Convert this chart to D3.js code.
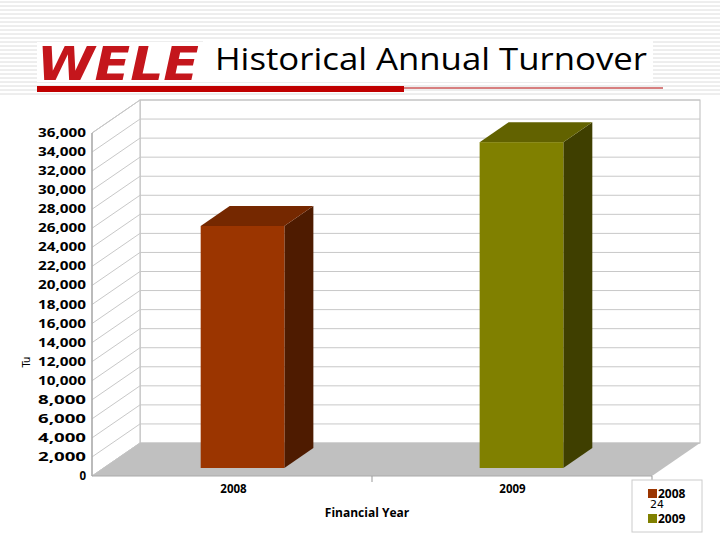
<!DOCTYPE html>
<html><head><meta charset="utf-8">
<script src="https://cdn.jsdelivr.net/npm/d3@7"></script>
<style>body{margin:0;background:#fff}svg{display:block}</style>
</head><body><div id="chart"></div>
<script>
// chart data
const years = ['2008', '2009'];
const turnover = [25400, 34200];
const yTicks = d3.range(0, 36001, 2000);
const faceColors = ['#9b3500', '#808000'];
const topColors = ['#752800', '#626200'];
const sideColors = ['#4e1b00', '#3f3f00'];

const W = 720, H = 540;
const svg = d3.select('#chart').append('svg').attr('width', W).attr('height', H);

// striped header background
for (let y = 2; y < 96; y += 4) {
    svg.append('line').attr('x1', 0).attr('x2', W).attr('y1', y).attr('y2', y)
        .attr('stroke', '#dcdcdc').attr('stroke-width', 1);
}
svg.append('rect').attr('x', 37).attr('y', 42).attr('width', 166).attr('height', 40).attr('fill', '#fff');
svg.append('rect').attr('x', 203).attr('y', 40).attr('width', 450).attr('height', 42).attr('fill', '#fff');
svg.append('text').attr('x', 37).attr('y', 80).attr('font-family', 'DejaVu Sans').attr('font-weight', 'bold')
    .attr('font-style', 'italic').attr('font-size', 46).attr('fill', '#c4161c')
    .attr('textLength', 162).attr('lengthAdjust', 'spacingAndGlyphs').text('WELE');
svg.append('text').attr('x', 215).attr('y', 70).attr('font-family', 'Open Sans').attr('font-size', 31)
    .attr('fill', '#000').attr('textLength', 432).attr('lengthAdjust', 'spacingAndGlyphs')
    .text('Historical Annual Turnover');
svg.append('line').attr('x1', 37).attr('x2', 663).attr('y1', 88).attr('y2', 88).attr('stroke', '#b00000');
svg.append('rect').attr('x', 37).attr('y', 86).attr('width', 367).attr('height', 6).attr('fill', '#c00000');

// 3D plot geometry
const x0 = 92, x1 = 652, dx = 48, dy = -33;
const y = d3.scaleLinear().domain([0, 36000]).range([476, 133]);
const xb = d3.scaleBand().domain(years).range([117, 647]).paddingInner(0.7).paddingOuter(0.3);
const g = svg.append('g');

// back wall and left wall
g.append('rect').attr('x', x0 + dx).attr('y', y(36000) + dy).attr('width', x1 - x0)
    .attr('height', y(0) - y(36000)).attr('fill', '#fff').attr('stroke', '#bbb');
g.append('path').attr('d', `M${x0},${y(0)}L${x0 + dx},${y(0) + dy}L${x0 + dx},${y(36000) + dy}L${x0},${y(36000)}Z`)
    .attr('fill', '#fff').attr('stroke', '#bbb');
yTicks.forEach(t => {
    g.append('line').attr('x1', x0 + dx).attr('x2', x1 + dx).attr('y1', y(t) + dy).attr('y2', y(t) + dy)
        .attr('stroke', '#c8c8c8');
    g.append('line').attr('x1', x0).attr('x2', x0 + dx).attr('y1', y(t)).attr('y2', y(t) + dy)
        .attr('stroke', '#c8c8c8');
});
// floor
g.append('path').attr('d', `M${x0},${y(0)}L${x1},${y(0)}L${x1 + dx},${y(0) + dy}L${x0 + dx},${y(0) + dy}Z`)
    .attr('fill', '#c0c0c0');
g.append('line').attr('x1', x0).attr('x2', x0).attr('y1', y(0)).attr('y2', y(36000)).attr('stroke', '#999');
g.append('line').attr('x1', x0).attr('x2', x1).attr('y1', y(0)).attr('y2', y(0)).attr('stroke', '#aaa');
[372, 652].forEach(tx => g.append('line').attr('x1', tx).attr('x2', tx).attr('y1', y(0))
    .attr('y2', y(0) + 6).attr('stroke', '#999'));

// y axis labels
g.selectAll('.yl').data(yTicks).enter().append('text')
    .attr('x', 86).attr('y', d => y(d) + 4).attr('text-anchor', 'end')
    .attr('font-family', 'Open Sans').attr('font-weight', 'bold').attr('font-size', 11.5)
    .attr('textLength', d => d === 0 ? null : 48).attr('lengthAdjust', 'spacingAndGlyphs')
    .text(d => d3.format(',')(d));
svg.append('text').attr('transform', 'translate(30,362) rotate(-90)').attr('text-anchor', 'middle')
    .attr('font-family', 'DejaVu Sans').attr('font-size', 10).text('Tu');

// 3D bars
const bdx = 29, bdy = -20, base = 468;
const yb = d3.scaleLinear().domain([0, 36000]).range([base, base - 343]);
years.forEach((yr, i) => {
    const bx = xb(yr), bw = xb.bandwidth(), top = yb(turnover[i]);
    g.append('path').attr('d', `M${bx + bw},${base}L${bx + bw + bdx},${base + bdy}L${bx + bw + bdx},${top + bdy}L${bx + bw},${top}Z`)
        .attr('fill', sideColors[i]);
    g.append('path').attr('d', `M${bx},${top}L${bx + bdx},${top + bdy}L${bx + bw + bdx},${top + bdy}L${bx + bw},${top}Z`)
        .attr('fill', topColors[i]);
    g.append('rect').attr('x', bx).attr('y', top).attr('width', bw).attr('height', base - top)
        .attr('fill', faceColors[i]);
    g.append('text').attr('x', bx + bw / 2 - 9).attr('y', 493).attr('text-anchor', 'middle')
        .attr('font-family', 'Open Sans').attr('font-weight', 'bold').attr('font-size', 11.5).text(yr);
});
svg.append('text').attr('x', 367).attr('y', 517).attr('text-anchor', 'middle')
    .attr('font-family', 'Open Sans').attr('font-weight', 'bold').attr('font-size', 12).text('Financial Year');

// legend
svg.append('rect').attr('x', 632).attr('y', 480).attr('width', 70).attr('height', 52)
    .attr('fill', '#fff').attr('stroke', '#ccc');
years.forEach((yr, i) => {
    svg.append('rect').attr('x', 648).attr('y', 489 + i * 25).attr('width', 9).attr('height', 9).attr('fill', faceColors[i]);
    svg.append('text').attr('x', 658).attr('y', 498 + i * 25).attr('font-family', 'Open Sans')
        .attr('font-weight', 'bold').attr('font-size', 12).text(yr);
});
svg.append('text').attr('x', 650).attr('y', 508).attr('font-family', 'DejaVu Sans').attr('font-size', 11).text('24');
</script></body></html>
